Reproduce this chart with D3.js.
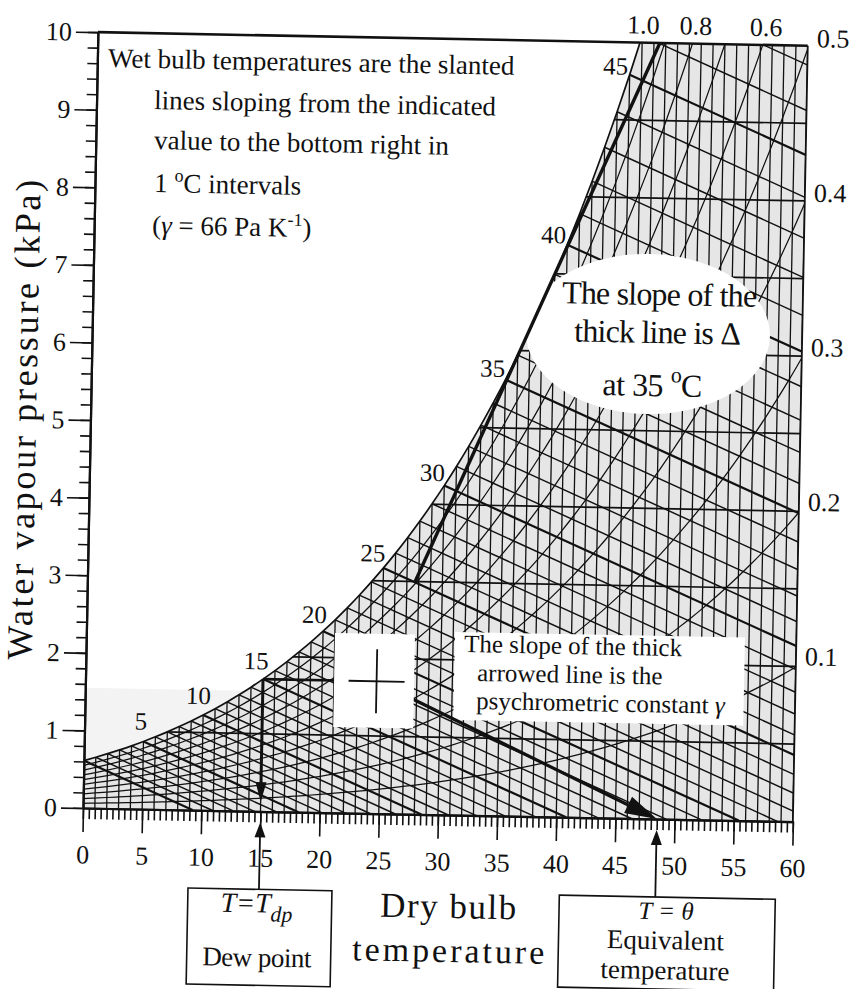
<!DOCTYPE html>
<html>
<head>
<meta charset="utf-8">
<title>Psychrometric chart</title>
<script src="https://cdn.jsdelivr.net/npm/d3@7/dist/d3.min.js"></script>
<style>
  body { margin: 0; background: #fff; }
  #chart { display: block; font-family: "Liberation Serif", "DejaVu Serif", serif; }
  #chart text { fill: #111; }
</style>
</head>
<body>
<svg id="chart"></svg>
<script>
// ---- values ----
const satTemps = [0, 1, 2, 3, 4, 5, 6, 7, 8, 9, 10, 11, 12, 13, 14, 15, 16, 17, 18, 19, 20,
  21, 22, 23, 24, 25, 26, 27, 28, 29, 30, 31, 32, 33, 34, 35, 36, 37, 38, 39, 40,
  41, 42, 43, 44, 45, 46, 47, 48, 49, 50, 51, 52, 53, 54, 55, 56, 57, 58, 59, 60];
// saturation vapour pressure (kPa) at each dry bulb temperature above
const satPressure = [0.611, 0.657, 0.706, 0.758, 0.813, 0.872, 0.935, 1.002, 1.073, 1.148,
  1.228, 1.312, 1.402, 1.497, 1.598, 1.705, 1.818, 1.937, 2.064, 2.197,
  2.338, 2.487, 2.644, 2.810, 2.985, 3.168, 3.361, 3.565, 3.780, 4.006,
  4.243, 4.493, 4.755, 5.031, 5.320, 5.624, 5.942, 6.276, 6.626, 6.993,
  7.378, 7.780, 8.202, 8.642, 9.103, 9.584, 10.09, 10.61, 11.16, 11.74,
  12.34, 12.96, 13.61, 14.29, 15.00, 15.74, 16.51, 17.31, 18.14, 19.01,
  19.92];
const xTickValues = [0, 5, 10, 15, 20, 25, 30, 35, 40, 45, 50, 55, 60];
const yTickValues = [0, 1, 2, 3, 4, 5, 6, 7, 8, 9, 10];
const vapourLines = [1, 2, 3, 4, 5, 6, 7, 8, 9];
const rhLevels = [0.1, 0.2, 0.3, 0.4, 0.5, 0.6, 0.7, 0.8, 0.9];
const rhTopLabels = [1.0, 0.8, 0.6];
const rhRightLabels = [0.5, 0.4, 0.3, 0.2, 0.1];
const curveLabelTemps = [5, 10, 15, 20, 25, 30, 35, 40, 45];
const gamma = 0.066; // kPa per K
const deltaLine = [{t: 27.7, e: 3.0}, {t: 47.5, e: 10.0}];
const airState = {t: 24.6, e: 1.705};
const dewPointTemp = 15;
const equivalentTemp = 48.5;

class PsychroChart {

  constructor(_config) {
    this.config = {
      parentElement: _config.parentElement,
      containerWidth: _config.containerWidth || 854,
      containerHeight: _config.containerHeight || 989,
      plot: _config.plot || {left: 83, right: 793, top: 32, bottom: 808},
      tilt: _config.tilt || 1.1,
      ink: '#111',
      hatchFill: '#e6e6e6',
    };
    this.initVis();
  }

  initVis() {
    let vis = this;
    const p = vis.config.plot;

    vis.xScale = d3.scaleLinear().domain([0, 60]).range([p.left, p.right]);
    vis.yScale = d3.scaleLinear().domain([0, 10]).range([p.bottom, p.top]);

    vis.svg = d3.select(vis.config.parentElement)
        .attr('width', vis.config.containerWidth)
        .attr('height', vis.config.containerHeight);

    vis.svg.append('rect')
        .attr('width', vis.config.containerWidth)
        .attr('height', vis.config.containerHeight)
        .attr('fill', '#fff');

    // the printed figure sits about a degree off level, rotate everything about the origin
    vis.chart = vis.svg.append('g')
        .attr('transform', `rotate(${vis.config.tilt},${p.left},${p.bottom})`);

    vis.satData = satTemps.map((t, i) => ({t: t, e: satPressure[i]}));

    vis.curve = d3.line()
        .x(d => vis.xScale(d.t))
        .y(d => vis.yScale(d.e))
        .curve(d3.curveMonotoneX);

    vis.renderVis();
  }

  // page position (as measured on the scan) -> position inside the tilted group
  fromScreen(sx, sy) {
    let vis = this;
    const p = vis.config.plot;
    const a = vis.config.tilt * Math.PI / 180;
    const dx = sx - p.left, dy = sy - p.bottom;
    return [p.left + dx * Math.cos(a) + dy * Math.sin(a),
            p.bottom - dx * Math.sin(a) + dy * Math.cos(a)];
  }

  tempAtPressure(e) {
    const i = d3.bisectLeft(satPressure, e);
    const e0 = satPressure[i - 1], e1 = satPressure[i];
    return satTemps[i - 1] + (e - e0) / (e1 - e0);
  }

  arrowHead(g, tip, from, length, halfWidth) {
    let vis = this;
    const dx = tip[0] - from[0], dy = tip[1] - from[1];
    const len = Math.hypot(dx, dy);
    const ux = dx / len, uy = dy / len;
    const bx = tip[0] - ux * length, by = tip[1] - uy * length;
    g.append('path')
        .attr('d', d3.line()([tip, [bx - uy * halfWidth, by + ux * halfWidth], [bx + uy * halfWidth, by - ux * halfWidth]]) + 'Z')
        .attr('fill', vis.config.ink);
  }

  renderVis() {
    let vis = this;
    const x = vis.xScale, y = vis.yScale;
    const ink = vis.config.ink;

    const defs = vis.svg.append('defs');
    defs.append('clipPath').attr('id', 'plot-clip')
      .append('rect')
        .attr('x', x(0)).attr('y', y(10))
        .attr('width', x(60) - x(0)).attr('height', y(0) - y(10));

    const satArea = d3.area()
        .x(d => x(d.t))
        .y0(y(0))
        .y1(d => y(d.e))
        .curve(d3.curveMonotoneX);

    defs.append('clipPath').attr('id', 'sat-clip')
      .append('path').attr('d', satArea(vis.satData));

    // faint grey of the paper at the lower left
    vis.chart.append('rect')
        .attr('x', x(0)).attr('y', y(1.55))
        .attr('width', x(17) - x(0)).attr('height', y(0) - y(1.55))
        .attr('fill', '#f3f3f3');

    // hatched region below the saturation curve
    const hatch = vis.chart.append('g')
        .attr('clip-path', 'url(#plot-clip)')
      .append('g')
        .attr('clip-path', 'url(#sat-clip)');

    hatch.append('rect')
        .attr('x', x(0)).attr('y', y(10))
        .attr('width', x(60) - x(0)).attr('height', y(0) - y(10))
        .attr('fill', vis.config.hatchFill);

    // dry bulb lines, 1 C apart
    hatch.selectAll('.dry-line')
      .data(satTemps)
      .join('line')
        .attr('class', 'dry-line')
        .attr('x1', d => x(d)).attr('x2', d => x(d))
        .attr('y1', y(0)).attr('y2', y(10))
        .attr('stroke', ink).attr('stroke-width', 1.3);

    // vapour pressure lines, 1 kPa apart
    hatch.selectAll('.vp-line')
      .data(vapourLines)
      .join('line')
        .attr('class', 'vp-line')
        .attr('x1', x(0)).attr('x2', x(60))
        .attr('y1', d => y(d)).attr('y2', d => y(d))
        .attr('stroke', ink).attr('stroke-width', 1.7);

    // relative humidity curves
    hatch.selectAll('.rh-line')
      .data(rhLevels)
      .join('path')
        .attr('class', 'rh-line')
        .attr('d', rh => vis.curve(vis.satData.map(d => ({t: d.t, e: rh * d.e}))))
        .attr('fill', 'none')
        .attr('stroke', ink).attr('stroke-width', 1.25);

    // wet bulb lines: from the saturation curve down with slope -gamma
    const wetData = vis.satData.filter(d => d.e - gamma * (60 - d.t) < 10);
    hatch.selectAll('.wet-line')
      .data(wetData)
      .join('line')
        .attr('class', 'wet-line')
        .attr('x1', d => x(d.t)).attr('y1', d => y(d.e))
        .attr('x2', d => x(d.t + d.e / gamma)).attr('y2', y(0))
        .attr('stroke', ink)
        .attr('stroke-width', d => d.t % 5 === 0 ? 2.2 : 1.45);

    // saturation curve
    vis.chart.append('g')
        .attr('clip-path', 'url(#plot-clip)')
      .append('path')
        .attr('d', vis.curve(vis.satData))
        .attr('fill', 'none')
        .attr('stroke', ink).attr('stroke-width', 1.7);

    // frame: top and right
    vis.chart.append('line')
        .attr('x1', x(0)).attr('x2', x(60)).attr('y1', y(10)).attr('y2', y(10))
        .attr('stroke', ink).attr('stroke-width', 2.6);
    vis.chart.append('line')
        .attr('x1', x(60)).attr('x2', x(60)).attr('y1', y(10)).attr('y2', y(0))
        .attr('stroke', ink).attr('stroke-width', 1.8);

    // axes
    const yMinor = d3.axisLeft(y).tickValues(d3.range(0, 10.001, 0.2))
        .tickSize(10).tickSizeOuter(0).tickFormat('');
    const yMajor = d3.axisLeft(y).tickValues(yTickValues)
        .tickSize(22).tickSizeOuter(0).tickPadding(4);
    const xMinor = d3.axisBottom(x).tickValues(d3.range(0, 60.001, 0.5))
        .tickSize(11).tickSizeOuter(0).tickFormat('');
    const xMajor = d3.axisBottom(x).tickValues(xTickValues)
        .tickSize(24).tickSizeOuter(0).tickPadding(13);

    [yMinor, yMajor].forEach(ax => {
      vis.chart.append('g')
          .attr('class', 'axis y-axis')
          .attr('transform', `translate(${x(0)},0)`)
          .call(ax);
    });
    [xMinor, xMajor].forEach(ax => {
      vis.chart.append('g')
          .attr('class', 'axis x-axis')
          .attr('transform', `translate(0,${y(0)})`)
          .call(ax);
    });
    vis.chart.selectAll('.axis')
        .attr('font-family', null)
        .attr('font-size', 26);
    vis.chart.selectAll('.axis .domain').attr('stroke', ink).attr('stroke-width', 2.2);
    vis.chart.selectAll('.axis .tick line').attr('stroke', ink).attr('stroke-width', 1.6);

    // saturation curve temperature labels, set off to the upper left of the curve
    curveLabelTemps.forEach(t => {
      const slope = (y(satPressure[t + 1]) - y(satPressure[t - 1])) / (x(t + 1) - x(t - 1));
      const n = Math.hypot(slope, 1);
      vis.chart.append('text')
          .attr('x', x(t) + 19 * slope / n + 4)
          .attr('y', y(satPressure[t]) - 19 / n - 3)
          .attr('dy', '0.35em')
          .attr('text-anchor', 'middle')
          .attr('font-size', 25)
          .text(t);
    });

    // relative humidity labels along the top and the right edge
    vis.chart.selectAll('.rh-top')
      .data(rhTopLabels)
      .join('text')
        .attr('class', 'rh-top')
        .attr('x', d => x(vis.tempAtPressure(10 / d)) + 3)
        .attr('y', y(10) - 9)
        .attr('text-anchor', 'middle')
        .attr('font-size', 26)
        .text(d => d.toFixed(1));

    vis.chart.selectAll('.rh-right')
      .data(rhRightLabels)
      .join('text')
        .attr('class', 'rh-right')
        .attr('x', x(60) + 9)
        .attr('y', d => y(d * satPressure[60]) - 11)
        .attr('dy', '0.35em')
        .attr('font-size', 26)
        .text(d => d.toFixed(1));

    // axis titles
    const yt = vis.fromScreen(36, 420);
    vis.chart.append('text')
        .attr('transform', `translate(${yt[0]},${yt[1]}) rotate(-90)`)
        .attr('text-anchor', 'middle')
        .attr('font-size', 36)
        .attr('textLength', 480)
        .attr('lengthAdjust', 'spacing')
        .text('Water vapour pressure (kPa)');

    const xt1 = vis.fromScreen(448, 918), xt2 = vis.fromScreen(448, 962);
    vis.chart.append('text').attr('x', xt1[0]).attr('y', xt1[1])
        .attr('text-anchor', 'middle').attr('font-size', 35)
        .attr('textLength', 136).attr('lengthAdjust', 'spacing').text('Dry bulb');
    vis.chart.append('text').attr('x', xt2[0]).attr('y', xt2[1])
        .attr('text-anchor', 'middle').attr('font-size', 34)
        .attr('textLength', 192).attr('lengthAdjust', 'spacing').text('temperature');

    // note in the upper left
    const note = [
      {s: [108, 67], parts: [{t: 'Wet bulb temperatures are the slanted'}]},
      {s: [154, 109], parts: [{t: 'lines sloping from the indicated'}]},
      {s: [154, 149], parts: [{t: 'value to the bottom right in'}]},
      {s: [154, 192], parts: [{t: '1 '}, {t: 'o', sup: true}, {t: 'C intervals', down: true}]},
      {s: [152, 234], parts: [{t: '('}, {t: 'γ', it: true}, {t: ' = 66 Pa K'}, {t: '-1', sup: true}, {t: ')', down: true}]},
    ];
    note.forEach(line => {
      const pos = vis.fromScreen(line.s[0], line.s[1]);
      const txt = vis.chart.append('text')
          .attr('x', pos[0]).attr('y', pos[1])
          .attr('font-size', 27);
      line.parts.forEach(part => {
        const ts = txt.append('tspan').text(part.t);
        if (part.it) ts.attr('font-style', 'italic');
        if (part.sup) ts.attr('dy', -11).attr('font-size', 18);
        if (part.down) ts.attr('dy', 11);
      });
    });

    // thick arrowed lines of the worked example
    const dp = [x(dewPointTemp), y(satPressure[dewPointTemp])];
    const st = [x(airState.t), y(airState.e)];
    const eq = [x(equivalentTemp), y(0)];

    vis.chart.append('line')
        .attr('x1', dp[0]).attr('y1', dp[1]).attr('x2', st[0]).attr('y2', st[1])
        .attr('stroke', ink).attr('stroke-width', 2.6);
    vis.chart.append('line')
        .attr('x1', dp[0]).attr('y1', dp[1]).attr('x2', dp[0]).attr('y2', y(0.35))
        .attr('stroke', ink).attr('stroke-width', 3);
    vis.arrowHead(vis.chart, [dp[0], y(0.12)], dp, 20, 5.5);

    // white patch behind the note on the gamma line
    const gb = vis.fromScreen(455, 632);
    vis.chart.append('rect')
        .attr('x', gb[0]).attr('y', gb[1]).attr('width', 290).attr('height', 88)
        .attr('fill', '#fff');

    // gamma line from the air state to the equivalent temperature
    const gDir = Math.atan2(eq[1] - st[1], eq[0] - st[0]);
    vis.chart.append('line')
        .attr('x1', st[0]).attr('y1', st[1])
        .attr('x2', eq[0] - 25 * Math.cos(gDir)).attr('y2', eq[1] - 25 * Math.sin(gDir))
        .attr('stroke', ink).attr('stroke-width', 3.2);
    vis.arrowHead(vis.chart, eq, st, 32, 9);

    // white patch with the cross marking the air state
    const pb = vis.fromScreen(335, 633);
    vis.chart.append('rect')
        .attr('x', pb[0]).attr('y', pb[1]).attr('width', 80).attr('height', 94)
        .attr('fill', '#fff');
    vis.chart.append('line')
        .attr('x1', st[0] - 28).attr('x2', st[0] + 28).attr('y1', st[1]).attr('y2', st[1])
        .attr('stroke', ink).attr('stroke-width', 1.8);
    vis.chart.append('line')
        .attr('x1', st[0]).attr('x2', st[0]).attr('y1', st[1] - 32).attr('y2', st[1] + 32)
        .attr('stroke', ink).attr('stroke-width', 1.8);

    const gLines = [
      {s: [464, 652], t: 'The slope of the thick'},
      {s: [477, 681], t: 'arrowed line is the'},
      {s: [476, 709], t: 'psychrometric constant '},
    ];
    gLines.forEach((l, i) => {
      const pos = vis.fromScreen(l.s[0], l.s[1]);
      const txt = vis.chart.append('text')
          .attr('x', pos[0]).attr('y', pos[1])
          .attr('font-size', 25)
          .text(l.t);
      if (i === 2) txt.append('tspan').attr('font-style', 'italic').text('γ');
    });

    // white blob with the note on the thick line
    const blob = vis.fromScreen(648, 334);
    vis.chart.append('ellipse')
        .attr('cx', blob[0]).attr('cy', blob[1]).attr('rx', 122).attr('ry', 80)
        .attr('fill', '#fff');

    vis.chart.append('line')
        .attr('x1', x(deltaLine[0].t)).attr('y1', y(deltaLine[0].e))
        .attr('x2', x(deltaLine[1].t)).attr('y2', y(deltaLine[1].e))
        .attr('stroke', ink).attr('stroke-width', 3.4);

    const b1 = vis.fromScreen(659, 305), b2 = vis.fromScreen(657, 343), b3 = vis.fromScreen(652, 396);
    vis.chart.append('text').attr('x', b1[0]).attr('y', b1[1])
        .attr('text-anchor', 'middle').attr('font-size', 32).attr('letter-spacing', -0.8)
        .text('The slope of the');
    vis.chart.append('text').attr('x', b2[0]).attr('y', b2[1])
        .attr('text-anchor', 'middle').attr('font-size', 32).attr('letter-spacing', -0.8)
        .text('thick line is Δ');
    const b3t = vis.chart.append('text').attr('x', b3[0]).attr('y', b3[1])
        .attr('text-anchor', 'middle').attr('font-size', 32).attr('letter-spacing', -0.5);
    b3t.append('tspan').text('at 35 ');
    b3t.append('tspan').attr('dy', -14).attr('font-size', 22).text('o');
    b3t.append('tspan').attr('dy', 14).text('C');

    // marker lines from the axis down to the two boxes
    [dewPointTemp, equivalentTemp].forEach(t => {
      vis.chart.append('line')
          .attr('x1', x(t)).attr('x2', x(t)).attr('y1', y(0) + 20).attr('y2', y(0) + 78)
          .attr('stroke', ink).attr('stroke-width', 1.8);
      vis.arrowHead(vis.chart, [x(t), y(0) + 11], [x(t), y(0) + 78], 15, 5.5);
    });

    const boxes = [
      {t: dewPointTemp, left: -71, right: 73, height: 96},
      {t: equivalentTemp, left: -96, right: 120, height: 92},
    ];
    boxes.forEach(b => {
      vis.chart.append('rect')
          .attr('x', x(b.t) + b.left).attr('y', y(0) + 78)
          .attr('width', b.right - b.left).attr('height', b.height)
          .attr('fill', '#fff')
          .attr('stroke', ink).attr('stroke-width', 1.6);
    });

    const dx = x(dewPointTemp);
    const dpLabel = vis.chart.append('text')
        .attr('x', dx - 2).attr('y', y(0) + 101)
        .attr('text-anchor', 'middle').attr('font-size', 28).attr('font-style', 'italic');
    dpLabel.append('tspan').text('T=T');
    dpLabel.append('tspan').attr('dy', 9).attr('font-size', 22).text('dp');
    vis.chart.append('text')
        .attr('x', dx - 1).attr('y', y(0) + 155)
        .attr('text-anchor', 'middle').attr('font-size', 27).attr('letter-spacing', -0.5)
        .text('Dew point');

    const ex = x(equivalentTemp) + 11;
    vis.chart.append('text')
        .attr('x', ex).attr('y', y(0) + 100)
        .attr('text-anchor', 'middle').attr('font-size', 25).attr('font-style', 'italic')
        .text('T = θ');
    vis.chart.append('text')
        .attr('x', ex).attr('y', y(0) + 130)
        .attr('text-anchor', 'middle').attr('font-size', 27)
        .text('Equivalent');
    vis.chart.append('text')
        .attr('x', ex).attr('y', y(0) + 160)
        .attr('text-anchor', 'middle').attr('font-size', 27)
        .text('temperature');
  }
}

new PsychroChart({parentElement: '#chart'});
</script>
</body>
</html>
